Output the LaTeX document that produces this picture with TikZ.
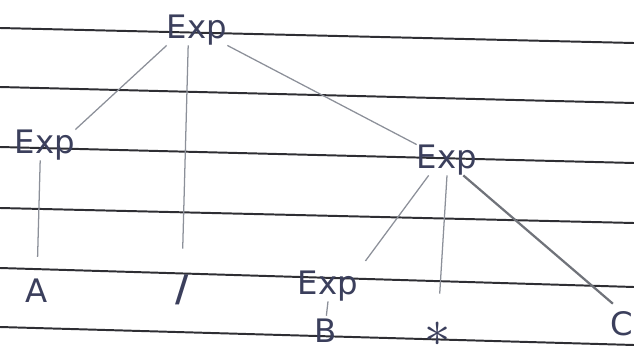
\documentclass[tikz,border=0pt]{standalone}
\usepackage{fontspec}
\setsansfont{DejaVu Sans}
\definecolor{ink}{HTML}{3B3F5C}
\definecolor{twig}{HTML}{8C9099}
\definecolor{ruling}{HTML}{2E2E33}
\tikzset{
  word/.style={inner sep=0pt, text=ink, font=\sffamily\fontsize{23}{23}\selectfont},
  branch/.style={draw=twig, line width=0.9pt},
  ruled/.style={draw=ruling, line width=1.4pt}
}
\begin{document}
\begin{tikzpicture}[x=0.025cm, y=-0.025cm]
   \useasboundingbox (0,0) rectangle (634,350);
   % paper lines
   \foreach \l/\r in {28/43, 87/103, 147/163, 208/223, 268/287, 327/345}
      \draw[ruled] (0,\l) -- (634,\r);

   \node [word] (root) at (197,30) {Exp};
   \node [word] (lexp) at (45,145) {Exp};
   \node [word] (rexp) at (447,160) {Exp};
   \node [word] (a) at (37,291) {A};
   \node [word, font=\sffamily\bfseries\fontsize{26}{26}\selectfont] (slash) at (182,290) {/};
   \node [word] (bexp) at (328,286) {Exp};
   \node [word] (b) at (326,331) {B};
   \node [word, font=\fontsize{40}{40}\selectfont] (times) at (438,334) {\scalebox{1.5}{$\ast$}};
   \node [word] (c) at (622,324) {C};

   \path[branch] (root.south west) edge (lexp.north east)
                 ([xshift=-0.22cm]root.south) edge[shorten >=0.65cm] (slash.north)
                 (root.south east) edge (rexp.north west)
                 ([xshift=-0.12cm]lexp.south) edge[shorten >=0.55cm] (a.north)
                 ([xshift=0.3cm]rexp.south west) edge[shorten >=0.3cm] (bexp.north east)
                 (rexp.south) edge[shorten >=0.7cm] (times.north)
                 (bexp.south) edge[shorten >=0.08cm] (b.north);

   \path[branch, draw=twig!80!black, line width=1.6pt]
                 ([xshift=-0.35cm]rexp.south east) edge[shorten >=0.3cm] (c.north);
\end{tikzpicture}
\end{document}
